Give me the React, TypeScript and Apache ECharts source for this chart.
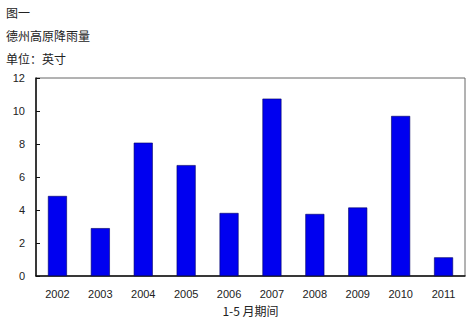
import React, { useEffect, useRef } from "react";
import * as echarts from "echarts";

const years = ["2002", "2003", "2004", "2005", "2006", "2007", "2008", "2009", "2010", "2011"];
const rainfall = [4.85, 2.9, 8.08, 6.72, 3.82, 10.75, 3.76, 4.15, 9.7, 1.13];
const titleLines = ["图一", "德州高原降雨量", "单位：英寸"];
const xAxisName = "1-5 月期间";

export default function App() {
  const ref = useRef<HTMLDivElement>(null);
  useEffect(() => {
    const chart = echarts.init(ref.current!, null, { renderer: "svg" });
    const cjk = '"Noto Sans CJK SC", sans-serif';
    chart.setOption({
      animation: false,
      backgroundColor: "#fff",
      graphic: titleLines.map((t, i) => ({
        type: "text",
        left: 6,
        top: [6, 29, 52][i],
        style: { text: t, font: `12px ${cjk}`, fill: "#222" },
      })),
      grid: {
        left: 36,
        right: 1,
        top: 78,
        bottom: 44,
        outerBoundsMode: "none",
        containLabel: false,
        show: true,
        borderColor: "#666",
        borderWidth: 1,
        backgroundColor: "transparent",
      },
      xAxis: {
        type: "category",
        data: years,
        name: xAxisName,
        nameLocation: "middle",
        nameGap: 25,
        nameTextStyle: { fontFamily: cjk, fontSize: 12, color: "#222", verticalAlign: "top", lineHeight: 14 },
        axisLine: { lineStyle: { color: "#111", width: 1.5 } },
        axisTick: { inside: true, length: 3, lineStyle: { color: "#111" } },
        axisLabel: { fontFamily: "Liberation Sans, Arial", fontSize: 11, color: "#222", margin: 12 },
        splitLine: { show: false },
      },
      yAxis: {
        type: "value",
        min: 0,
        max: 12,
        interval: 2,
        axisLine: { show: true, lineStyle: { color: "#111", width: 1.5 } },
        axisTick: { show: true, inside: true, length: 4, lineStyle: { color: "#111" } },
        axisLabel: { fontFamily: "Liberation Sans, Arial", fontSize: 11, color: "#222", margin: 11 },
        splitLine: { show: false },
      },
      series: [
        {
          type: "bar",
          data: rainfall,
          barWidth: 19,
          itemStyle: { color: "#0000F0", borderColor: "#000060", borderWidth: 0.6 },
        },
      ],
    });
    return () => chart.dispose();
  }, []);
  return <div ref={ref} style={{ width: 466, height: 320, position: "absolute", left: 0, top: 0 }} />;
}
